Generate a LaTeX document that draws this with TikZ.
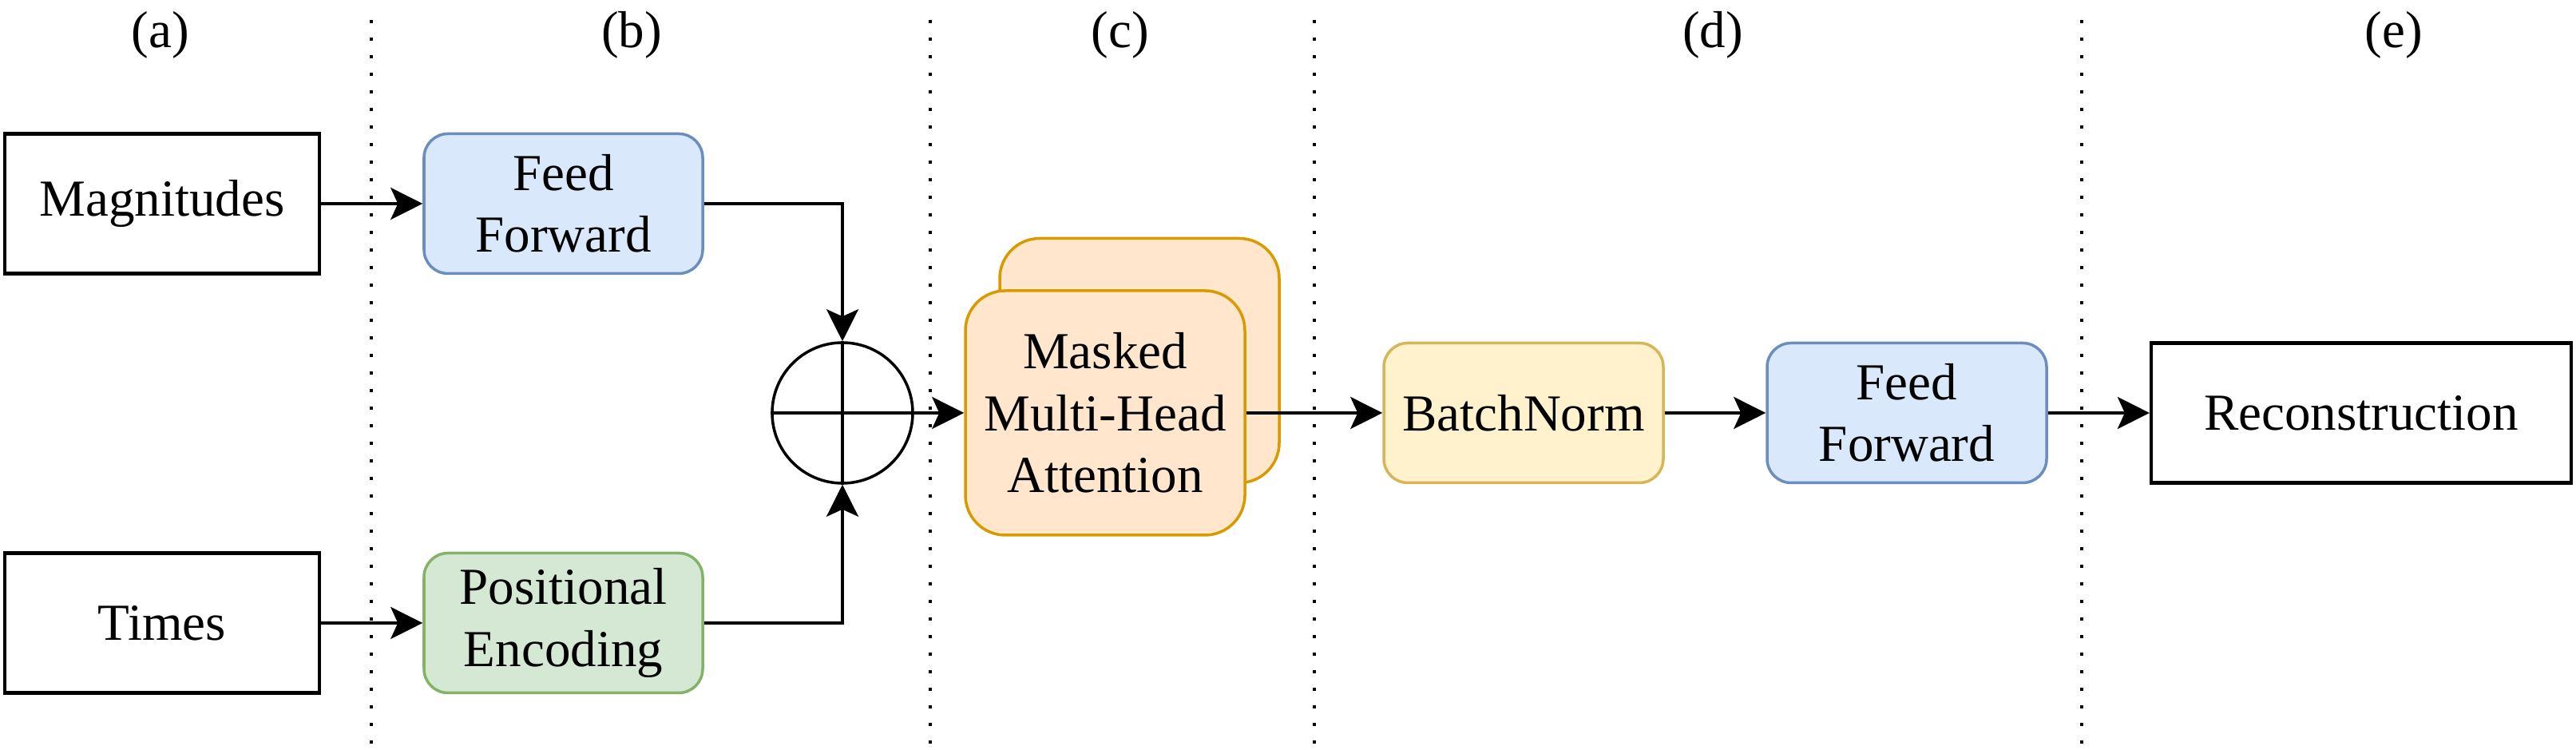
\documentclass[tikz,border=0pt]{standalone}
\usepackage{fontspec}
\setmainfont{Liberation Serif}
\usetikzlibrary{arrows.meta}

\definecolor{blueFill}{HTML}{DAE8FC}
\definecolor{blueLine}{HTML}{6C8EBF}
\definecolor{greenFill}{HTML}{D5E8D4}
\definecolor{greenLine}{HTML}{82B366}
\definecolor{orangeFill}{HTML}{FFE6CC}
\definecolor{orangeLine}{HTML}{D79B00}
\definecolor{yellowFill}{HTML}{FFF2CC}
\definecolor{yellowLine}{HTML}{D6B656}

\begin{document}
\begin{tikzpicture}[
    font=\fontsize{18.5pt}{22pt}\selectfont,
    plain/.style={draw,line width=1.2pt,minimum width=3.94cm,minimum height=1.75cm,inner sep=0pt},
    block/.style={draw,line width=1pt,rounded corners=0.3cm,minimum width=3.49cm,minimum height=1.75cm,align=center,inner sep=0pt},
    att/.style={draw=orangeLine,fill=orangeFill,line width=1pt,rounded corners=0.5cm,minimum width=3.5cm,minimum height=3.06cm,align=center,inner sep=0pt},
    sep/.style={line width=1.3pt,dash pattern=on 0.04cm off 0.18cm},
    conn/.style={line width=1.1pt,-{Stealth[length=0.4cm,width=0.4cm,inset=0.09cm]}}
]
            \useasboundingbox (0,0) rectangle (32.26,9.39);
            
            % column separators and labels
            \foreach \x in {4.65,11.65,16.46,26.07}
                \draw[sep] (\x,0.08) -- (\x,9.30);
            \node (la) at (2.01,8.95) {(a)};
            \node (lb) at (7.91,8.95) {(b)};
            \node (lc) at (14.03,8.95) {(c)};
            \node (ld) at (21.45,8.95) {(d)};
            \node (le) at (29.98,8.95) {(e)};
            
            \node (magn) at (2.03,6.84) [plain] {Magnitudes};
            \node (times) at (2.03,1.59) [plain] {Times};
            \node (ff1) at (7.055,6.84) [block,draw=blueLine,fill=blueFill] {Feed\\Forward};
            \node (pe) at (7.055,1.59) [block,draw=greenLine,fill=greenFill] {Positional\\Encoding};
            \node (sum) at (10.55,4.22) [circle,draw,line width=1pt,minimum size=1.76cm,inner sep=0pt] {};
            \draw[line width=1pt] (sum.north) -- (sum.south) (sum.west) -- (sum.east);
            
            \node (mhaback) at (14.27,4.875) [att] {};
            \node (mha) at (13.84,4.22) [att] {Masked\\Multi-Head\\Attention};
            \node (bn) at (19.08,4.22) [block,draw=yellowLine,fill=yellowFill,minimum width=3.5cm] {BatchNorm};
            \node (ff2) at (23.88,4.22) [block,draw=blueLine,fill=blueFill,minimum width=3.5cm] {Feed\\Forward};
            \node (rec) at (29.57,4.22) [plain,minimum width=5.26cm] {Reconstruction};
            
            \draw[conn] (magn) -- (ff1);
            \draw[conn] (times) -- (pe);
            \draw[conn] (ff1) -| (sum);
            \draw[conn] (pe) -| (sum);
            \draw[conn] (sum) -- (mha);
            \draw[conn] (mha) -- (bn);
            \draw[conn] (bn) -- (ff2);
            \draw[conn] (ff2) -- (rec);
            
\end{tikzpicture}
\end{document}
